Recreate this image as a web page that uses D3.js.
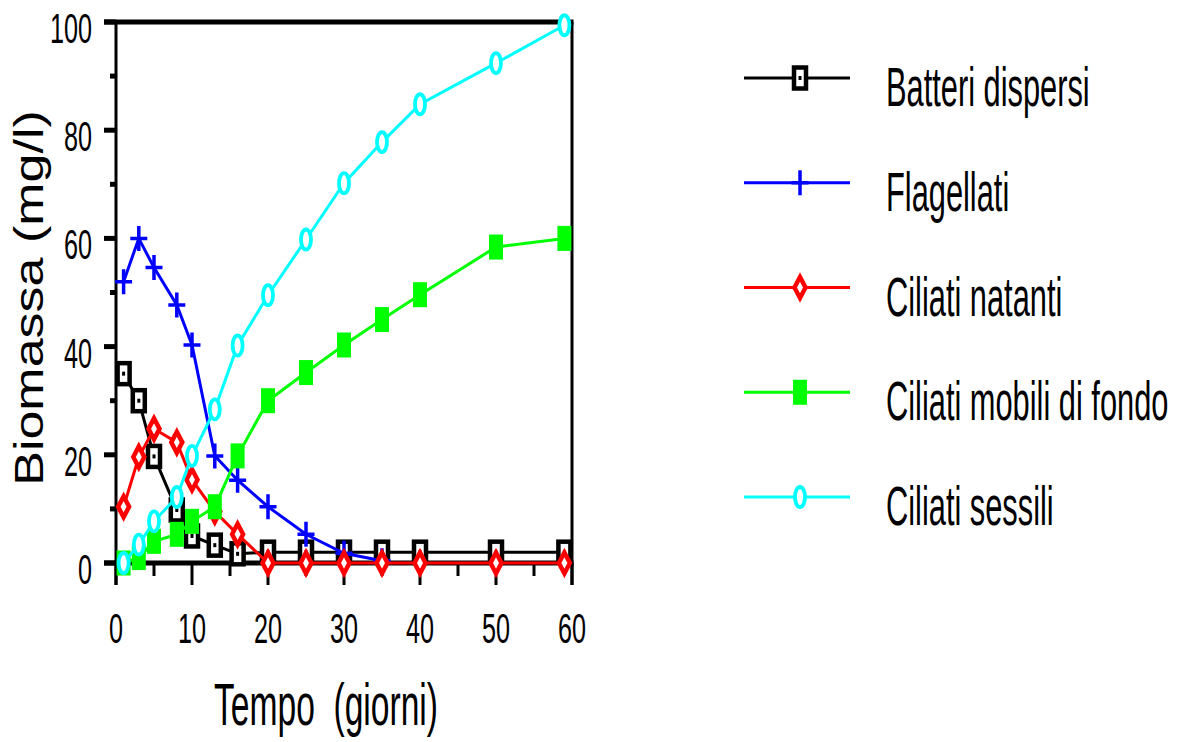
<!DOCTYPE html>
<html>
<head>
<meta charset="utf-8">
<script src="https://cdn.jsdelivr.net/npm/d3@7"></script>
<style>
  body { margin: 0; background: #fff; }
  text { font-family: "Liberation Sans", Arial, sans-serif; fill: #000; white-space: pre; }
</style>
</head>
<body>
<svg id="chart" width="1184" height="742"></svg>
<script>
// data
const seriesNames = ["Batteri dispersi", "Flagellati", "Ciliati natanti", "Ciliati mobili di fondo", "Ciliati sessili"];
const seriesColors = ["#000000", "#0000ff", "#ff0000", "#00ff00", "#00ffff"];
const seriesSymbols = ["square", "plus", "diamond", "filled", "circle"];

const batteriDays = [1, 3, 5, 8, 10, 13, 16, 20, 25, 30, 35, 40, 50, 59];
const batteriValues = [35, 30, 19.7, 9.8, 5, 3.3, 1.7, 2, 2, 2, 2, 2, 2, 2];
const flagellatiDays = [1, 3, 5, 8, 10, 13, 16, 20, 25, 30, 35];
const flagellatiValues = [52, 60, 54.6, 47.7, 40.3, 19.8, 15.3, 10.4, 5.3, 1.8, 0.4];
const natantiDays = [1, 3, 5, 8, 10, 13, 16, 20, 25, 30, 35, 40, 50, 59];
const natantiValues = [10.4, 19.6, 24.8, 22.3, 15.4, 9.5, 5.3, 0, 0, 0, 0, 0, 0, 0];
const mobiliDays = [1, 3, 5, 8, 10, 13, 16, 20, 25, 30, 35, 40, 50, 59];
const mobiliValues = [0, 1, 4, 5.3, 7.7, 10.4, 19.8, 30, 35.2, 40.3, 45, 49.6, 58.4, 60];
const sessiliDays = [1, 3, 5, 8, 10, 13, 16, 20, 25, 30, 35, 40, 50, 59];
const sessiliValues = [0, 3.4, 7.7, 12.2, 19.8, 28.4, 40.2, 49.5, 59.8, 70.2, 77.8, 84.8, 92.4, 99.4];

const xTicks = [0, 10, 20, 30, 40, 50, 60];
const xMinorTicks = [5, 15, 25, 35, 45, 55];
const yTicks = [0, 20, 40, 60, 80, 100];
const yMinorTicks = [10, 30, 50, 70, 90];

const allDays = [batteriDays, flagellatiDays, natantiDays, mobiliDays, sessiliDays];
const allValues = [batteriValues, flagellatiValues, natantiValues, mobiliValues, sessiliValues];

const svg = d3.select("#chart");

const x = d3.scaleLinear().domain([0, 60]).range([116, 572]);
const y = d3.scaleLinear().domain([0, 100]).range([563, 22]);

// frame
svg.append("line").attr("x1", x(0)).attr("x2", x(0)).attr("y1", y(100)).attr("y2", 585)
  .attr("stroke", "#000").attr("stroke-width", 3);
svg.append("line").attr("x1", x(60)).attr("x2", x(60)).attr("y1", y(100)).attr("y2", 585)
  .attr("stroke", "#000").attr("stroke-width", 3);
svg.append("line").attr("x1", 104).attr("x2", x(60) + 1.5).attr("y1", y(100)).attr("y2", y(100))
  .attr("stroke", "#000").attr("stroke-width", 5);
svg.append("line").attr("x1", 104).attr("x2", x(60) + 1.5).attr("y1", y(0)).attr("y2", y(0))
  .attr("stroke", "#000").attr("stroke-width", 5);

// ticks
svg.selectAll(".ytick").data(yTicks).enter().append("line")
  .attr("x1", 104).attr("x2", x(0)).attr("y1", d => y(d)).attr("y2", d => y(d))
  .attr("stroke", "#000").attr("stroke-width", 5);
svg.selectAll(".yminor").data(yMinorTicks).enter().append("line")
  .attr("x1", 110).attr("x2", x(0)).attr("y1", d => y(d)).attr("y2", d => y(d))
  .attr("stroke", "#000").attr("stroke-width", 5);
svg.selectAll(".xtick").data(xTicks).enter().append("line")
  .attr("x1", d => x(d)).attr("x2", d => x(d)).attr("y1", y(0)).attr("y2", 585)
  .attr("stroke", "#000").attr("stroke-width", 3);
svg.selectAll(".xminor").data(xMinorTicks).enter().append("line")
  .attr("x1", d => x(d)).attr("x2", d => x(d)).attr("y1", y(0)).attr("y2", 576)
  .attr("stroke", "#000").attr("stroke-width", 3);

// tick labels
svg.selectAll(".ylab").data(yTicks).enter().append("text")
  .attr("transform", d => `translate(92,${y(d) + 21}) scale(0.6,1)`)
  .attr("text-anchor", "end").attr("font-size", 42)
  .text(d => d);
svg.selectAll(".xlab").data(xTicks).enter().append("text")
  .attr("transform", d => `translate(${x(d)},643) scale(0.6,1)`)
  .attr("text-anchor", "middle").attr("font-size", 42)
  .text(d => d);

// axis titles
svg.append("text")
  .attr("transform", "translate(326,725) scale(0.56,1)")
  .attr("text-anchor", "middle").attr("font-size", 60)
  .text("Tempo  (giorni)");
svg.append("text")
  .attr("transform", "translate(43,298) rotate(-90) scale(1,0.78)")
  .attr("text-anchor", "middle").attr("font-size", 52)
  .text("Biomassa (mg/l)");

function drawMarker(g, kind, color) {
  if (kind == "square") {
    g.append("rect").attr("x", -6).attr("y", -10.5).attr("width", 12).attr("height", 21)
      .attr("fill", "#fff").attr("stroke", color).attr("stroke-width", 4.5);
    g.append("rect").attr("x", -1.5).attr("y", -2).attr("width", 3).attr("height", 4).attr("fill", color);
  } else if (kind == "plus") {
    g.append("path").attr("d", "M-8.5,0H8.5M0,-12.5V12.5")
      .attr("stroke", color).attr("stroke-width", 3.5).attr("fill", "none");
  } else if (kind == "diamond") {
    g.append("path").attr("d", "M0,-10.5L5.5,0L0,10.5L-5.5,0Z")
      .attr("fill", "#fff").attr("stroke", color).attr("stroke-width", 4.5);
  } else if (kind == "filled") {
    g.append("rect").attr("x", -7).attr("y", -12.5).attr("width", 14).attr("height", 25).attr("fill", color);
  } else {
    g.append("ellipse").attr("rx", 5).attr("ry", 10)
      .attr("fill", "#fff").attr("stroke", color).attr("stroke-width", 3.8);
  }
}

const line = d3.line().x(d => x(d[0])).y(d => y(d[1]));

seriesNames.forEach((name, i) => {
  const pts = allDays[i].map((d, j) => [d, allValues[i][j]]);
  svg.append("path").datum(pts)
    .attr("d", line)
    .attr("fill", "none")
    .attr("stroke", seriesColors[i])
    .attr("stroke-width", 3);
  svg.selectAll(".m" + i).data(pts).enter().append("g")
    .attr("transform", d => `translate(${x(d[0])},${y(d[1])})`)
    .each(function () { drawMarker(d3.select(this), seriesSymbols[i], seriesColors[i]); });
});

// legend
const legendY = d3.scalePoint().domain(seriesNames).range([78, 497]);

seriesNames.forEach((name, i) => {
  const ly = legendY(name);
  svg.append("line").attr("x1", 744).attr("x2", 850).attr("y1", ly).attr("y2", ly)
    .attr("stroke", seriesColors[i]).attr("stroke-width", 3);
  const g = svg.append("g").attr("transform", `translate(800,${ly})`);
  drawMarker(g, seriesSymbols[i], seriesColors[i]);
  svg.append("text")
    .attr("transform", `translate(886,${ly + 28}) scale(0.56,1)`)
    .attr("font-size", 55)
    .text(name);
});
</script>
</body>
</html>
